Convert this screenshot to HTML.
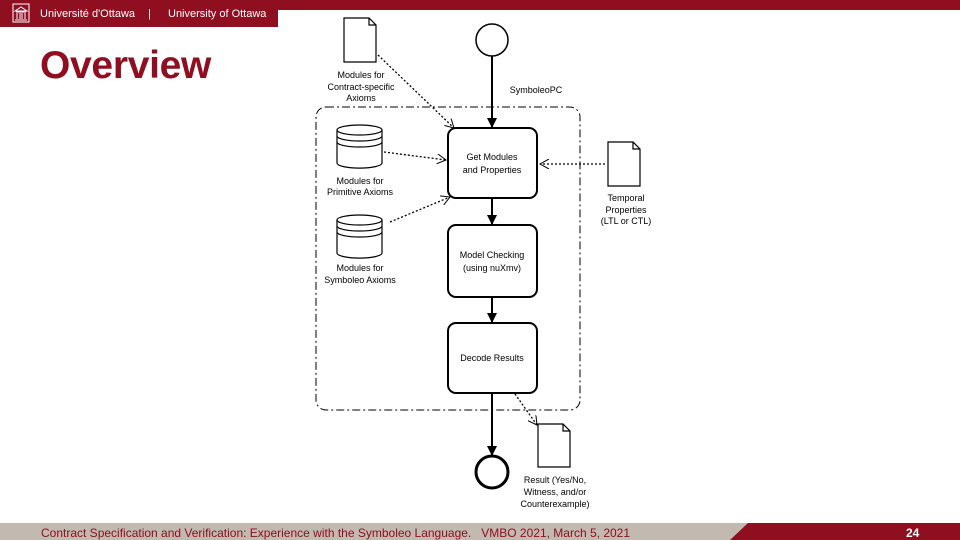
<!DOCTYPE html>
<html><head><meta charset="utf-8"><style>
body{margin:0;width:960px;height:540px;overflow:hidden;background:#fff;position:relative;font-family:"Liberation Sans",sans-serif}
.hdr{position:absolute;left:0;top:0;width:960px;height:10px;background:#8f0f20}
.hdr2{position:absolute;left:0;top:0;width:278px;height:27px;background:#8f0f20;color:#fff;font-size:11px}
.title{position:absolute;left:40px;top:44px;font-size:39px;font-weight:bold;color:#8f0f20;letter-spacing:-0.3px}
.ft{position:absolute;left:0;top:523px;width:960px;height:17px;background:#c2b9b0}
.ftr{position:absolute;left:730px;top:523px;width:230px;height:17px;background:#8f0f20;clip-path:polygon(18px 0,100% 0,100% 100%,0 100%)}
</style></head><body>
<div class="hdr"></div>
<div class="hdr2">
<svg style="position:absolute;left:12px;top:3px" width="18" height="20" viewBox="0 0 18 20"><rect x="1" y="1" width="16" height="18" fill="none" stroke="#fff"/><path d="M3 8 L9 4 L15 8 Z M4 9 h10 M5 10 v6 M8 10 v6 M10 10 v6 M13 10 v6 M3 17 h12" stroke="#fff" fill="none"/></svg>
<span style="position:absolute;left:40px;top:8px">Université d'Ottawa</span>
<span style="position:absolute;left:148px;top:8px">|</span>
<span style="position:absolute;left:168px;top:8px">University of Ottawa</span>
</div>
<div class="title">Overview</div>
<svg style="position:absolute;left:0;top:0" width="960" height="540" font-family="Liberation Sans, sans-serif" font-size="9" text-anchor="middle">
<defs>
<marker id="a" markerWidth="10" markerHeight="10" refX="9" refY="5" orient="auto" markerUnits="userSpaceOnUse"><path d="M0 0 L10 5 L0 10 Z" fill="#000"/></marker>
<marker id="o" markerWidth="10" markerHeight="10" refX="9" refY="5" orient="auto" markerUnits="userSpaceOnUse"><path d="M0 0 L9 5 L0 10" fill="none" stroke="#000"/></marker>
</defs>
<rect x="316" y="107" width="264" height="303" rx="10" fill="none" stroke="#000" stroke-dasharray="8,3,2,3"/>
<circle cx="492" cy="40" r="16" fill="#fff" stroke="#000" stroke-width="1.5"/>
<line x1="492" y1="56" x2="492" y2="127" stroke="#000" stroke-width="2" marker-end="url(#a)"/>
<text x="536" y="93">SymboleoPC</text>
<rect x="448" y="128" width="89" height="70" rx="8" fill="#fff" stroke="#000" stroke-width="2"/>
<text x="492" y="160">Get Modules</text><text x="492" y="173">and Properties</text>
<line x1="492" y1="198" x2="492" y2="224" stroke="#000" stroke-width="2" marker-end="url(#a)"/>
<rect x="448" y="225" width="89" height="72" rx="8" fill="#fff" stroke="#000" stroke-width="2"/>
<text x="492" y="258">Model Checking</text><text x="492" y="271">(using nuXmv)</text>
<line x1="492" y1="297" x2="492" y2="322" stroke="#000" stroke-width="2" marker-end="url(#a)"/>
<rect x="448" y="323" width="89" height="70" rx="8" fill="#fff" stroke="#000" stroke-width="2"/>
<text x="492" y="361">Decode Results</text>
<line x1="492" y1="393" x2="492" y2="455" stroke="#000" stroke-width="2" marker-end="url(#a)"/>
<circle cx="492" cy="472" r="16" fill="#fff" stroke="#000" stroke-width="3"/>
<g fill="#fff" stroke="#000" stroke-width="1.2">
<path d="M344 18 H369 L376 25 V62 H344 Z M369 18 V25 H376"/>
<path d="M608 142 H633 L640 149 V186 H608 Z M633 142 V149 H640"/>
<path d="M538 424 H563 L570 431 V467 H538 Z M563 424 V431 H570"/>
</g>
<g fill="#fff" stroke="#000" stroke-width="1.2">
<path d="M337 130 V163 A22 5 0 0 0 382 163 V130"/><ellipse cx="359.5" cy="130" rx="22.5" ry="5"/><path d="M337 136 A22.5 5 0 0 0 382 136 M337 142 A22.5 5 0 0 0 382 142"/>
<path d="M337 220 V253 A22 5 0 0 0 382 253 V220"/><ellipse cx="359.5" cy="220" rx="22.5" ry="5"/><path d="M337 226 A22.5 5 0 0 0 382 226 M337 232 A22.5 5 0 0 0 382 232"/>
</g>
<text x="361" y="78">Modules for</text><text x="361" y="90">Contract-specific</text><text x="361" y="101">Axioms</text>
<text x="360" y="184">Modules for</text><text x="360" y="195">Primitive Axioms</text>
<text x="360" y="271">Modules for</text><text x="360" y="283">Symboleo Axioms</text>
<text x="626" y="201">Temporal</text><text x="626" y="213">Properties</text><text x="626" y="224">(LTL or CTL)</text>
<text x="555" y="483">Result (Yes/No,</text><text x="555" y="495">Witness, and/or</text><text x="555" y="507">Counterexample)</text>
<g stroke="#000" stroke-width="1.3" stroke-dasharray="2,2" fill="none">
<line x1="378" y1="55" x2="454" y2="128" marker-end="url(#o)"/>
<line x1="384" y1="152" x2="446" y2="160" marker-end="url(#o)"/>
<line x1="390" y1="222" x2="450" y2="197" marker-end="url(#o)"/>
<line x1="605" y1="164" x2="540" y2="164" marker-end="url(#o)"/>
<line x1="515" y1="394" x2="537" y2="425" marker-end="url(#o)"/>
</g>
</svg>
<div class="ft"></div><div class="ftr"></div>
<div style="position:absolute;left:41px;top:526px;font-size:12px;color:#8f0f20;white-space:nowrap">Contract Specification and Verification: Experience with the Symboleo Language.&nbsp;&nbsp; VMBO 2021, March 5, 2021</div>
<div style="position:absolute;left:906px;top:526px;font-size:12px;color:#fff;font-weight:bold">24</div>
</body></html>
